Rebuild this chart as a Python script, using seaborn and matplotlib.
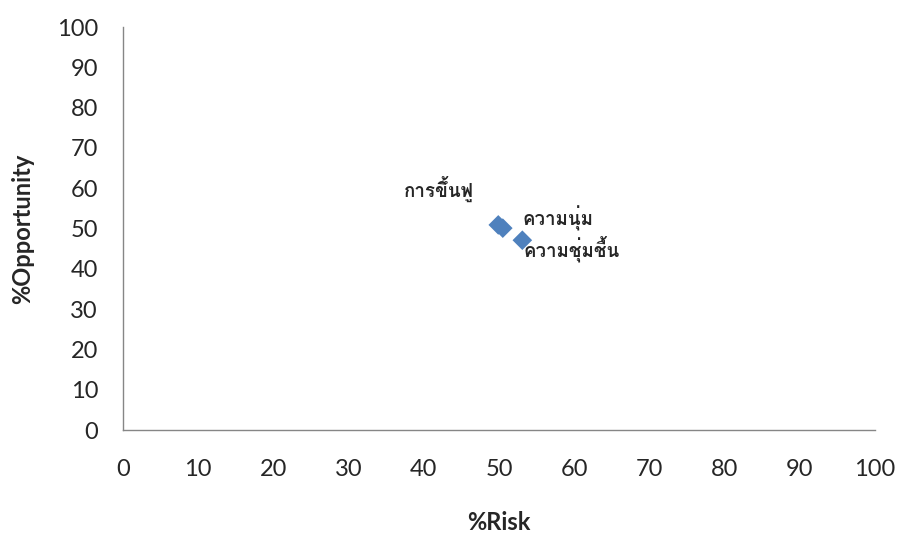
import matplotlib
matplotlib.use("Agg")
import matplotlib.pyplot as plt
import seaborn as sns
import pandas as pd

# ข้อมูลจากภาพ
labels = ["การขึ้นฟู", "ความนุ่ม", "ความชุ่มชื้น"]
risk = [49.9, 50.5, 53.1]
opportunity = [50.9, 50.1, 47.1]
ticks = [0, 10, 20, 30, 40, 50, 60, 70, 80, 90, 100]

# ตำแหน่งป้ายกำกับ (offset points) และฟอนต์ไทย
label_offsets = [(-68, 20), (14, 2), (1, -12)]
thai_font = ["Loma", "DejaVu Sans"]

df = pd.DataFrame({"risk": risk, "opportunity": opportunity, "label": labels})

sns.set_style("white")
plt.rcParams["font.family"] = ["Lato", "DejaVu Sans"]

fig = plt.figure(figsize=(9.06, 5.38), dpi=100)
ax = fig.add_axes([0.1358, 0.2007, 0.83, 0.749])

sns.scatterplot(data=df, x="risk", y="opportunity", marker="D", s=100,
                color="#4F81BD", edgecolor="none", ax=ax, zorder=3)

ax.set_xlim(0, 100)
ax.set_ylim(0, 100)
ax.set_xticks(ticks)
ax.set_yticks(ticks)
ax.tick_params(axis="x", length=0, pad=21, labelsize=17)
ax.tick_params(axis="y", length=0, pad=18, labelsize=17)
ax.set_xlabel("%Risk", fontsize=17, fontweight="bold", labelpad=22)
ax.set_ylabel("%Opportunity", fontsize=17, fontweight="bold", labelpad=16)
for s in ["top", "right"]:
    ax.spines[s].set_visible(False)
for s in ["left", "bottom"]:
    ax.spines[s].set_color("#868686")
    ax.spines[s].set_linewidth(1)

for i, lab in enumerate(labels):
    ax.annotate(lab, (risk[i], opportunity[i]), xytext=label_offsets[i],
                textcoords="offset points", ha="left", va="baseline",
                fontsize=13.5, fontweight="bold", family=thai_font)

fig.savefig("out.png", dpi=100)
